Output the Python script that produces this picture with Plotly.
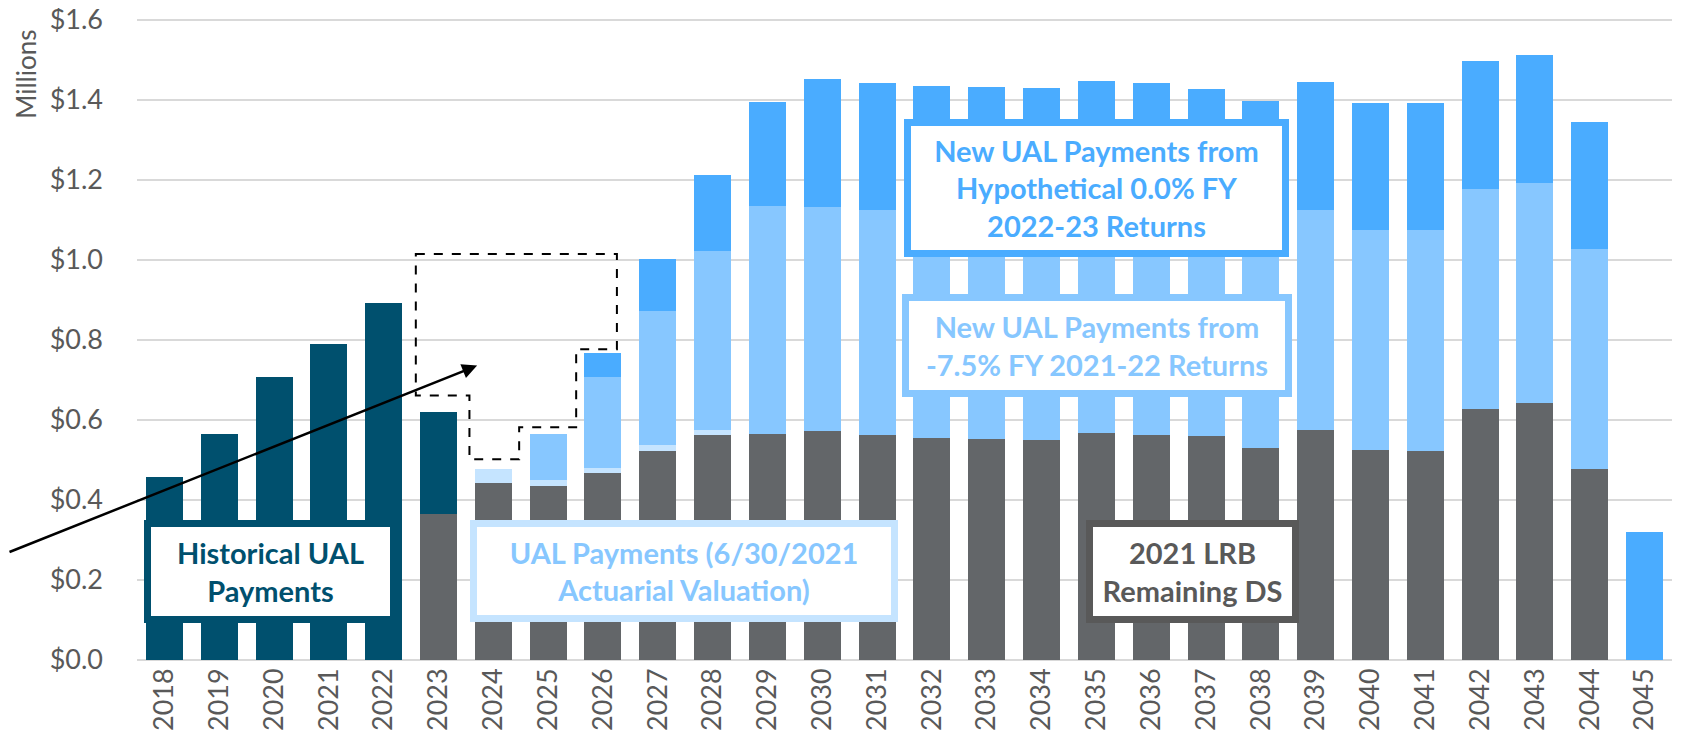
import plotly.graph_objects as go

years = list(range(2018, 2046))
tick_labels = [str(y) for y in years]
y_ticks = [0.0, 0.2, 0.4, 0.6, 0.8, 1.0, 1.2, 1.4, 1.6]
y_tick_labels = ["$0.0", "$0.2", "$0.4", "$0.6", "$0.8", "$1.0", "$1.2", "$1.4", "$1.6"]

lrb_ds = [0, 0, 0, 0, 0, 0.365, 0.442, 0.435, 0.467, 0.523, 0.5625, 0.566, 0.573, 0.563,
          0.556, 0.5525, 0.55, 0.5675, 0.563, 0.56, 0.53, 0.575, 0.524, 0.523, 0.628, 0.643, 0.477, 0]
historical = [0.458, 0.565, 0.7075, 0.79, 0.893, 0.255] + [0] * 22
ual_2021 = [0, 0, 0, 0, 0, 0, 0.036, 0.015, 0.014, 0.014, 0.0125] + [0] * 17
new_ual_75 = [0, 0, 0, 0, 0, 0, 0, 0.115, 0.227, 0.336, 0.4475, 0.57, 0.56, 0.562,
              0.561, 0.5615, 0.561, 0.561, 0.5615, 0.55, 0.55, 0.55, 0.551, 0.552, 0.5495, 0.55, 0.551, 0]
new_ual_00 = [0, 0, 0, 0, 0, 0, 0, 0, 0.059, 0.13, 0.19, 0.259, 0.319, 0.318,
              0.318, 0.318, 0.318, 0.318, 0.318, 0.318, 0.318, 0.319, 0.318, 0.3175, 0.32, 0.3195, 0.318, 0.321]

C_DARK = "#00506E"
C_GRAY = "#636669"
C_PALE = "#C5E4FF"
C_LIGHT = "#87C7FF"
C_BRIGHT = "#4AACFF"
C_TXT = "#595959"

series = [
    ("2021 LRB Remaining DS", lrb_ds, C_GRAY),
    ("Historical UAL Payments", historical, C_DARK),
    ("UAL Payments (6/30/2021 Actuarial Valuation)", ual_2021, C_PALE),
    ("New UAL Payments from -7.5% FY 2021-22 Returns", new_ual_75, C_LIGHT),
    ("New UAL Payments from Hypothetical 0.0% FY 2022-23 Returns", new_ual_00, C_BRIGHT),
]

fig = go.Figure()
for name, vals, col in series:
    fig.add_trace(go.Bar(x=years, y=vals, name=name, marker=dict(color=col, line=dict(width=0)),
                         hoverinfo="x+y+name"))

fig.update_layout(
    barmode="stack",
    bargap=0.325,
    width=1681, height=737,
    margin=dict(l=129, r=17, t=10, b=85),
    paper_bgcolor="white", plot_bgcolor="white",
    showlegend=False,
    font=dict(family="Lato", color=C_TXT),
)
fig.update_xaxes(range=[2017.5, 2045.5], tickmode="array", tickvals=years, ticktext=tick_labels,
                 tickangle=-90, tickfont=dict(size=27, color=C_TXT, family="Lato"),
                 showgrid=False, showline=False, zeroline=False, ticks="", automargin=False,
                 ticklabelstandoff=2, ticklabeloverflow="allow")
fig.update_yaxes(range=[0, 1.605], tickmode="array", tickvals=y_ticks, ticktext=y_tick_labels,
                 showgrid=True, gridcolor="#D9D9D9",
                 gridwidth=1.5, zeroline=True, zerolinecolor="#D9D9D9", zerolinewidth=1.5,
                 tickfont=dict(size=27, color=C_TXT, family="Lato"), ticklabelstandoff=33, ticks="",
                 automargin=False, ticklabeloverflow="allow")

# Y axis title placed at top
fig.add_annotation(text="Millions", xref="paper", yref="paper", x=-0.0723, y=0.984, xanchor="center",
                   yanchor="top", textangle=-90, showarrow=False, font=dict(size=26, color=C_TXT, family="Lato"))

# Label boxes
boxes = [
    ("Historical UAL<br>Payments", 2018 + 1.936, 0.221, 239, 89, C_DARK, C_DARK),
    ("UAL Payments (6/30/2021<br>Actuarial Valuation)", 2018 + 9.473, 0.222, 414, 88, C_PALE, C_LIGHT),
    ("2021 LRB<br>Remaining DS", 2018 + 18.746, 0.2225, 199, 89, C_TXT, C_TXT),
    ("New UAL Payments from<br>Hypothetical 0.0% FY<br>2022-23 Returns", 2018 + 17.006, 1.179, 371, 124, C_BRIGHT, C_BRIGHT),
    ("New UAL Payments from<br>-7.5% FY 2021-22 Returns", 2018 + 17.006, 0.7875, 376, 89, C_LIGHT, C_LIGHT),
]
for text, x, y, w, h, bcol, tcol in boxes:
    fig.add_annotation(text="<b>" + text + "</b>", x=x, y=y, xref="x", yref="y", showarrow=False,
                       xanchor="center", yanchor="middle", width=w, height=h, align="center",
                       bgcolor="white", bordercolor=bcol, borderwidth=7, borderpad=0,
                       font=dict(size=29, color=tcol, family="Lato"))

# Dashed outline
path = ("M 2022.586,1.015 L 2026.254,1.015 L 2026.254,0.777 L 2025.511,0.777 L 2025.511,0.582 "
        "L 2024.471,0.582 L 2024.471,0.502 L 2023.564,0.502 L 2023.564,0.661 L 2022.586,0.661 Z")
fig.add_shape(type="path", path=path, xref="x", yref="y", line=dict(color="black", width=2, dash="dash"),
              fillcolor="rgba(0,0,0,0)", layer="above")

# Arrow
fig.add_annotation(x=2018 + 5.704, y=0.736, xref="x", yref="y", ax=-477, ay=187, axref="pixel", ayref="pixel",
                   text="", showarrow=True, arrowhead=2, arrowsize=1.2, arrowwidth=2.5, arrowcolor="black",
                   standoff=0)

fig.write_html("out.html")
